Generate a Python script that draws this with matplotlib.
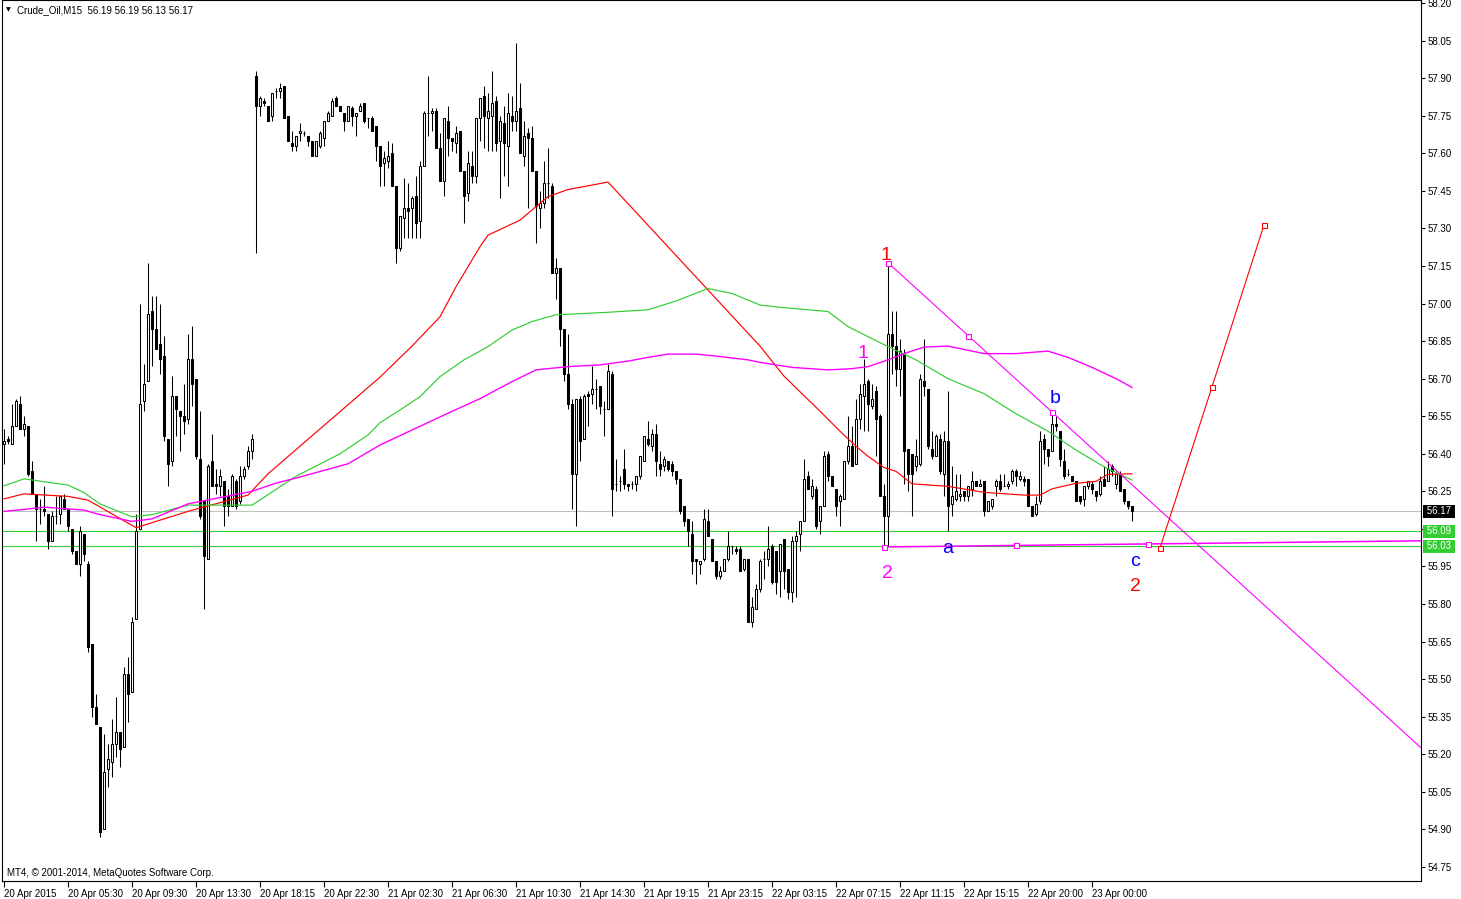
import matplotlib
matplotlib.use("Agg")
import matplotlib.pyplot as plt
from matplotlib.transforms import blended_transform_factory
import numpy as np

# ---------------- data (Crude_Oil, M15) ----------------
opens = [
    56.44, 56.46, 56.44, 56.51, 56.60, 56.50, 56.51, 56.33, 56.24, 56.18,
    56.18, 56.16, 56.05, 56.15, 56.16, 56.22, 56.18, 56.10, 56.01, 55.96,
    56.08, 55.96, 55.64, 55.39, 55.31, 54.90, 55.14, 55.17, 55.24, 55.29,
    55.23, 55.52, 55.45, 55.74, 56.10, 56.61, 56.69, 56.97, 56.90, 56.84,
    56.79, 56.46, 56.37, 56.63, 56.57, 56.55, 56.54,
    56.78, 56.70, 56.38, 56.21, 55.98, 56.37, 56.28, 56.27, 56.29, 56.23,
    56.19, 56.29, 56.21, 56.31, 56.35, 56.41,
    57.91, 57.79, 57.81, 57.79, 57.75, 57.85, 57.85, 57.87, 57.75, 57.64,
    57.63, 57.68, 57.68, 57.67, 57.65, 57.59, 57.63, 57.66, 57.73, 57.75,
    57.82, 57.79, 57.76, 57.73, 57.78, 57.75, 57.77, 57.80, 57.74, 57.74,
    57.71, 57.63,
    57.56, 57.57, 57.60, 57.47, 57.22, 57.34, 57.38, 57.38, 57.43, 57.33,
    57.55, 57.76, 57.76, 57.77, 57.62, 57.49, 57.73, 57.66, 57.64, 57.69,
    57.53, 57.44, 57.55, 57.51, 57.74, 57.83, 57.74, 57.75, 57.81, 57.65,
    57.72, 57.63, 57.75, 57.73, 57.78, 57.59, 57.68, 57.66, 57.53, 57.38,
    57.40, 57.48, 57.47, 57.12, 57.14, 56.90, 56.72,
    56.60, 56.32, 56.62, 56.46, 56.64, 56.64, 56.66, 56.67, 56.58, 56.58,
    56.72, 56.28, 56.29, 56.34, 56.28, 56.28, 56.28, 56.31, 56.37, 56.46,
    56.43, 56.48, 56.36, 56.35, 56.37, 56.36, 56.33, 56.30, 56.19, 56.14,
    56.08, 55.98, 55.96, 55.98, 56.13, 56.06, 55.97, 55.91, 55.93, 55.98,
    56.03, 56.02, 56.02, 55.94, 55.98, 55.73, 55.78, 55.86,
    55.98, 55.98, 56.03, 56.01, 55.93, 56.06, 55.94, 55.85, 56.05, 56.08,
    56.13, 56.31, 56.23, 56.26, 56.13, 56.19, 56.40, 56.31, 56.26, 56.21,
    56.22, 56.37, 56.43, 56.36, 56.54, 56.63, 56.69, 56.59, 56.65, 56.55,
    56.23, 56.15, 56.88, 56.83, 56.74, 56.80, 56.42, 56.40, 56.35, 56.36,
    56.69, 56.66, 56.42, 56.39, 56.46, 56.32, 56.45,
    56.20, 56.22, 56.23, 56.25, 56.23, 56.26, 56.29, 56.27, 56.29, 56.17,
    56.19, 56.27, 56.29, 56.27, 56.27, 56.29, 56.33, 56.30, 56.30, 56.30,
    56.19, 56.16, 56.21, 56.46, 56.42, 56.41, 56.52, 56.49, 56.37, 56.32,
    56.31, 56.29, 56.23, 56.22, 56.27, 56.28, 56.25, 56.24, 56.30, 56.29,
    56.35, 56.28, 56.32, 56.26, 56.21, 56.19,
]
highs = [
    56.50, 56.47, 56.60, 56.62, 56.63, 56.55, 56.51, 56.37, 56.24, 56.22,
    56.27, 56.16, 56.17, 56.23, 56.23, 56.24, 56.18, 56.10, 56.01, 56.11,
    56.08, 55.97, 55.64, 55.44, 55.31, 55.28, 55.24, 55.34, 55.43, 55.29,
    55.55, 55.59, 55.75, 56.16, 57.00, 56.76, 57.16, 57.03, 57.03, 57.00,
    56.87, 56.46, 56.71, 56.63, 56.57, 56.68, 56.88,
    56.91, 56.70, 56.57, 56.21, 56.36, 56.48, 56.34, 56.34, 56.29, 56.26,
    56.32, 56.30, 56.35, 56.35, 56.43, 56.48,
    57.93, 57.83, 57.82, 57.79, 57.84, 57.86, 57.88, 57.87, 57.75, 57.69,
    57.67, 57.72, 57.69, 57.67, 57.65, 57.65, 57.69, 57.73, 57.77, 57.82,
    57.83, 57.79, 57.76, 57.79, 57.79, 57.76, 57.80, 57.80, 57.74, 57.75,
    57.71, 57.63,
    57.61, 57.65, 57.64, 57.47, 57.35, 57.50, 57.48, 57.43, 57.51, 57.57,
    57.77, 57.91, 57.78, 57.78, 57.68, 57.74, 57.79, 57.66, 57.71, 57.69,
    57.53, 57.61, 57.61, 57.74, 57.82, 57.87, 57.84, 57.93, 57.83, 57.75,
    57.79, 57.84, 57.83, 58.04, 57.88, 57.73, 57.70, 57.71, 57.53, 57.45,
    57.57, 57.62, 57.48, 57.18, 57.14, 56.90, 56.88,
    56.62, 56.62, 56.63, 56.64, 56.65, 56.75, 56.70, 56.67, 56.61, 56.76,
    56.73, 56.38, 56.31, 56.42, 56.28, 56.29, 56.31, 56.39, 56.47, 56.53,
    56.50, 56.52, 56.41, 56.39, 56.37, 56.37, 56.33, 56.30, 56.19, 56.14,
    56.13, 55.98, 55.97, 56.18, 56.18, 56.06, 55.97, 55.95, 55.98, 56.09,
    56.03, 56.03, 56.03, 55.98, 55.98, 55.83, 55.88, 55.98,
    56.01, 56.11, 56.04, 56.01, 56.04, 56.06, 55.94, 56.07, 56.09, 56.13,
    56.38, 56.33, 56.30, 56.27, 56.19, 56.41, 56.41, 56.31, 56.26, 56.24,
    56.37, 56.55, 56.51, 56.62, 56.68, 56.78, 56.70, 56.68, 56.67, 56.56,
    56.28, 57.16, 56.97, 56.97, 56.86, 56.82, 56.42, 56.40, 56.46, 56.72,
    56.86, 56.66, 56.49, 56.48, 56.48, 56.49, 56.65,
    56.35, 56.32, 56.32, 56.25, 56.27, 56.33, 56.29, 56.30, 56.29, 56.21,
    56.22, 56.30, 56.32, 56.32, 56.29, 56.34, 56.34, 56.33, 56.31, 56.30,
    56.19, 56.23, 56.49, 56.48, 56.42, 56.57, 56.55, 56.49, 56.42, 56.34,
    56.31, 56.29, 56.23, 56.27, 56.29, 56.29, 56.25, 56.31, 56.35, 56.37,
    56.36, 56.33, 56.33, 56.26, 56.21, 56.19,
]
lows = [
    56.36, 56.44, 56.44, 56.51, 56.50, 56.47, 56.31, 56.24, 56.05, 56.12,
    56.15, 56.02, 56.05, 56.12, 56.12, 56.18, 56.09, 56.00, 55.96, 55.91,
    55.97, 55.61, 55.35, 55.32, 54.87, 54.90, 55.07, 55.11, 55.19, 55.15,
    55.23, 55.33, 55.45, 55.74, 56.10, 56.57, 56.69, 56.75, 56.82, 56.72,
    56.45, 56.27, 56.35, 56.47, 56.41, 56.48, 56.52,
    56.59, 56.38, 56.14, 55.78, 55.98, 56.27, 56.24, 56.23, 56.11, 56.15,
    56.19, 56.18, 56.20, 56.30, 56.34, 56.38,
    57.20, 57.75, 57.79, 57.73, 57.73, 57.82, 57.82, 57.74, 57.65, 57.61,
    57.61, 57.65, 57.67, 57.63, 57.59, 57.59, 57.62, 57.63, 57.73, 57.75,
    57.79, 57.77, 57.69, 57.73, 57.71, 57.67, 57.77, 57.72, 57.70, 57.69,
    57.57, 57.47,
    57.47, 57.54, 57.47, 57.16, 57.21, 57.26, 57.26, 57.26, 57.26, 57.26,
    57.55, 57.67, 57.69, 57.62, 57.49, 57.43, 57.59, 57.61, 57.60, 57.53,
    57.32, 57.41, 57.48, 57.48, 57.65, 57.62, 57.61, 57.61, 57.61, 57.42,
    57.51, 57.47, 57.69, 57.69, 57.60, 57.55, 57.38, 57.53, 57.24, 57.30,
    57.38, 57.42, 57.12, 57.02, 56.83, 56.69, 56.58,
    56.18, 56.11, 56.37, 56.46, 56.51, 56.60, 56.58, 56.56, 56.47, 56.58,
    56.15, 56.25, 56.25, 56.26, 56.25, 56.26, 56.25, 56.30, 56.37, 56.43,
    56.41, 56.31, 56.31, 56.33, 56.33, 56.31, 56.28, 56.16, 56.11, 56.03,
    55.92, 55.88, 55.92, 55.97, 56.07, 55.97, 55.90, 55.90, 55.93, 55.97,
    56.00, 56.00, 55.93, 55.93, 55.73, 55.71, 55.78, 55.85,
    55.90, 55.95, 55.88, 55.84, 55.83, 55.86, 55.82, 55.81, 55.83, 56.01,
    56.13, 56.26, 56.22, 56.10, 56.08, 56.19, 56.29, 56.27, 56.15, 56.11,
    56.22, 56.36, 56.35, 56.36, 56.50, 56.49, 56.49, 56.58, 56.39, 56.23,
    56.03, 56.03, 56.72, 56.67, 56.63, 56.28, 56.25, 56.15, 56.33, 56.35,
    56.63, 56.42, 56.38, 56.39, 56.32, 56.23, 56.09,
    56.15, 56.21, 56.21, 56.21, 56.21, 56.23, 56.27, 56.27, 56.15, 56.17,
    56.18, 56.23, 56.25, 56.27, 56.26, 56.28, 56.27, 56.29, 56.27, 56.19,
    56.15, 56.15, 56.20, 56.36, 56.35, 56.41, 56.49, 56.35, 56.30, 56.31,
    56.29, 56.21, 56.20, 56.19, 56.26, 56.24, 56.21, 56.23, 56.27, 56.29,
    56.31, 56.26, 56.25, 56.20, 56.18, 56.13,
]
closes = [
    56.45, 56.45, 56.51, 56.61, 56.50, 56.52, 56.32, 56.24, 56.18, 56.18,
    56.17, 56.05, 56.15, 56.15, 56.23, 56.18, 56.11, 56.01, 55.96, 56.09,
    56.00, 55.63, 55.39, 55.32, 54.89, 55.13, 55.18, 55.24, 55.29, 55.22,
    55.52, 55.44, 55.73, 56.09, 56.60, 56.68, 56.96, 56.90, 56.82, 56.78,
    56.47, 56.36, 56.63, 56.58, 56.55, 56.53, 56.78,
    56.68, 56.39, 56.15, 55.99, 56.35, 56.27, 56.27, 56.31, 56.19, 56.19,
    56.31, 56.19, 56.31, 56.34, 56.41, 56.46,
    57.79, 57.82, 57.80, 57.73, 57.84, 57.85, 57.86, 57.74, 57.65, 57.63,
    57.67, 57.69, 57.68, 57.65, 57.59, 57.65, 57.68, 57.73, 57.76, 57.81,
    57.79, 57.77, 57.73, 57.79, 57.75, 57.76, 57.79, 57.73, 57.74, 57.69,
    57.63, 57.55,
    57.58, 57.59, 57.47, 57.22, 57.35, 57.38, 57.37, 57.42, 57.32, 57.55,
    57.76, 57.76, 57.77, 57.62, 57.49, 57.74, 57.66, 57.65, 57.68, 57.53,
    57.43, 57.56, 57.51, 57.74, 57.82, 57.75, 57.77, 57.80, 57.64, 57.73,
    57.64, 57.76, 57.73, 57.77, 57.60, 57.67, 57.66, 57.53, 57.39, 57.40,
    57.48, 57.48, 57.12, 57.14, 56.90, 56.72, 56.60,
    56.32, 56.62, 56.45, 56.63, 56.63, 56.66, 56.66, 56.59, 56.58, 56.73,
    56.26, 56.28, 56.29, 56.28, 56.27, 56.28, 56.31, 56.39, 56.47, 56.44,
    56.48, 56.37, 56.34, 56.38, 56.34, 56.33, 56.30, 56.17, 56.13, 56.09,
    55.97, 55.97, 55.97, 56.14, 56.07, 55.97, 55.91, 55.93, 55.98, 56.03,
    56.03, 56.01, 55.93, 55.98, 55.73, 55.79, 55.86, 55.97,
    55.98, 56.02, 55.89, 55.89, 56.04, 55.93, 55.85, 56.05, 56.07, 56.13,
    56.30, 56.26, 56.27, 56.11, 56.19, 56.39, 56.31, 56.27, 56.19, 56.23,
    56.37, 56.43, 56.35, 56.54, 56.64, 56.68, 56.60, 56.62, 56.54, 56.23,
    56.15, 56.88, 56.83, 56.74, 56.81, 56.41, 56.32, 56.32, 56.39, 56.70,
    56.67, 56.43, 56.39, 56.47, 56.33, 56.45, 56.19,
    56.23, 56.25, 56.24, 56.23, 56.27, 56.29, 56.27, 56.28, 56.17, 56.21,
    56.22, 56.29, 56.26, 56.27, 56.28, 56.33, 56.31, 56.31, 56.29, 56.19,
    56.15, 56.20, 56.45, 56.42, 56.39, 56.52, 56.51, 56.38, 56.31, 56.32,
    56.29, 56.21, 56.21, 56.27, 56.29, 56.26, 56.23, 56.29, 56.27, 56.34,
    56.33, 56.32, 56.25, 56.21, 56.19, 56.17,
]

time_labels = [
    "20 Apr 2015", "20 Apr 05:30", "20 Apr 09:30", "20 Apr 13:30",
    "20 Apr 18:15", "20 Apr 22:30", "21 Apr 02:30", "21 Apr 06:30",
    "21 Apr 10:30", "21 Apr 14:30", "21 Apr 19:15", "21 Apr 23:15",
    "22 Apr 03:15", "22 Apr 07:15", "22 Apr 11:15", "22 Apr 15:15",
    "22 Apr 20:00", "23 Apr 00:00",
]
bars_per_label = 16

# moving averages (bar index, value)
ma_red_bars = [0, 5, 16, 21, 33, 46, 61, 66, 94, 102, 109, 113, 119, 121, 129,
               136, 141, 151, 189, 195, 204, 209, 213, 216, 220, 223, 227, 236,
               245, 255, 259, 262, 268, 273, 276, 282]
ma_red = [56.22, 56.24, 56.23, 56.215, 56.105, 56.17, 56.235, 56.32, 56.706,
          56.83, 56.947, 57.067, 57.227, 57.273, 57.333, 57.427, 57.455, 57.485,
          56.83, 56.71, 56.57, 56.49, 56.43, 56.39, 56.345, 56.33, 56.28, 56.27,
          56.246, 56.235, 56.235, 56.26, 56.282, 56.29, 56.318, 56.32]
ma_green_bars = [0, 5, 16, 20, 24, 32, 37, 46, 62, 73, 84, 91, 94, 99, 104, 109,
                 115, 121, 127, 132, 138, 141, 151, 161, 168, 176, 182, 189, 194,
                 206, 211, 217, 222, 228, 236, 245, 253, 261, 268, 275, 282]
ma_green = [56.272, 56.30, 56.275, 56.245, 56.20, 56.148, 56.157, 56.195, 56.195,
            56.31, 56.40, 56.475, 56.524, 56.575, 56.628, 56.708, 56.775, 56.828,
            56.894, 56.928, 56.955, 56.957, 56.965, 56.975, 57.01, 57.06, 57.04,
            56.994, 56.985, 56.968, 56.908, 56.86, 56.82, 56.775, 56.70, 56.64,
            56.56, 56.49, 56.415, 56.348, 56.295]
ma_mag_bars = [0, 5, 10, 20, 24, 32, 37, 46, 62, 68, 73, 86, 94, 102, 111, 119,
               127, 133, 136, 141, 149, 156, 161, 166, 173, 177, 186, 189, 197,
               206, 212, 216, 221, 225, 230, 236, 245, 253, 261, 266, 272, 278, 282]
ma_mag = [56.17, 56.178, 56.187, 56.175, 56.157, 56.13, 56.14, 56.20, 56.25,
          56.283, 56.303, 56.36, 56.435, 56.495, 56.562, 56.62, 56.688, 56.735,
          56.74, 56.748, 56.755, 56.77, 56.785, 56.798, 56.798, 56.792, 56.775,
          56.765, 56.745, 56.735, 56.74, 56.748, 56.775, 56.80, 56.826, 56.83,
          56.80, 56.80, 56.81, 56.785, 56.745, 56.70, 56.665]

bid_price = 56.17
level_prices = [56.09, 56.03]

# wave drawing objects (bar index, price)
trend_bars = [221, 241, 262]
trend_prices = [57.163, 56.872, 56.567]
base_bars = [220, 253, 286]
base_prices = [56.028, 56.034, 56.040]
proj_bars = [289, 302, 315]
proj_prices = [56.024, 56.667, 57.314]

wave_labels = [
    ("1", 220.5, 57.19, "#FF0000"),
    ("1", 214.8, 56.80, "#FF00FF"),
    ("2", 220.8, 55.92, "#FF00FF"),
    ("a", 235.8, 56.02, "#0000FF"),
    ("b", 262.8, 56.62, "#0000FF"),
    ("c", 282.8, 55.97, "#0000FF"),
    ("2", 282.8, 55.87, "#FF0000"),
]

header = "Crude_Oil,M15  56.19 56.19 56.13 56.17"
copyright_text = "MT4, \u00a9 2001-2014, MetaQuotes Software Corp."

# ---------------- figure ----------------
W, H = 1461, 899
fig = plt.figure(figsize=(W / 100, H / 100), dpi=100)
fig.patch.set_facecolor("white")
ax = fig.add_axes([2 / W, 18 / H, 1419 / W, 881 / H])
ax.set_facecolor("white")

x_min, x_max = -0.5, 354.25
px_per_price = 864 / 3.45
y_top = 58.20 + 3 / px_per_price
y_bot = 58.20 - 878 / px_per_price
ax.set_xlim(x_min, x_max)
ax.set_ylim(y_bot, y_top)

LW = 0.75
FONT = "Liberation Sans"
FS = 7
o = np.array(opens); h = np.array(highs); l = np.array(lows); c = np.array(closes)
xi = np.arange(len(o))

# horizontal levels
ax.axhline(bid_price, color="#C0C0C0", lw=0.8, zorder=1)
for p in level_prices:
    ax.axhline(p, color="#32CD32", lw=0.8, zorder=1)

# candles
ax.vlines(xi, l, h, color="black", lw=LW, zorder=3)
up = c >= o
bottoms = np.minimum(o, c)
heights = np.abs(c - o)
ax.bar(xi[up], heights[up], bottom=bottoms[up], width=0.66, facecolor="white",
       edgecolor="black", linewidth=LW, zorder=4)
ax.bar(xi[~up], heights[~up], bottom=bottoms[~up], width=0.66, facecolor="black",
       edgecolor="black", linewidth=LW, zorder=4)

# moving averages
ax.plot(ma_red_bars, ma_red, color="#FF0000", lw=0.85, zorder=5)
ax.plot(ma_green_bars, ma_green, color="#32CD32", lw=0.85, zorder=5)
ax.plot(ma_mag_bars, ma_mag, color="#FF00FF", lw=1.0, zorder=5)

# wave objects
def extend_to_edge(bx, py):
    slope = (py[-1] - py[0]) / (bx[-1] - bx[0])
    return [bx[0], x_max], [py[0], py[0] + slope * (x_max - bx[0])]

ex, ey = extend_to_edge(trend_bars, trend_prices)
ax.plot(ex, ey, color="#FF00FF", lw=0.8, zorder=6)
ax.plot(trend_bars, trend_prices, ls="none", marker="s", ms=3.6, mfc="white",
        mec="#FF00FF", mew=0.8, zorder=7)
ex, ey = extend_to_edge(base_bars, base_prices)
ax.plot(ex, ey, color="#FF00FF", lw=1.1, zorder=6)
ax.plot(base_bars, base_prices, ls="none", marker="s", ms=3.6, mfc="white",
        mec="#FF00FF", mew=0.8, zorder=7)
ax.plot(proj_bars, proj_prices, color="#FF0000", lw=0.8, zorder=6)
ax.plot(proj_bars, proj_prices, ls="none", marker="s", ms=3.6, mfc="white",
        mec="#FF0000", mew=0.8, zorder=7)

for t, bx, py, col in wave_labels:
    ax.text(bx, py, t, color=col, fontsize=14, family=FONT,
            ha="center", va="center", zorder=8)

# axes styling
for s in ax.spines.values():
    s.set_color("black")
    s.set_linewidth(0.8)

tick_font = dict(family=FONT, size=FS)
yt = [54.75 + 0.15 * k for k in range(24)]
ax.yaxis.tick_right()
ax.set_yticks(yt)
ax.set_yticklabels([f"{v:.2f}" for v in yt], **tick_font)
ax.tick_params(axis="y", direction="out", length=3, width=0.8, pad=2, colors="black")

xt = [bars_per_label * k for k in range(len(time_labels))]
ax.set_xticks(xt)
ax.set_xticklabels(time_labels, **tick_font)
for lab in ax.get_xticklabels():
    lab.set_ha("left")
ax.tick_params(axis="x", direction="out", length=4, width=0.8, pad=2, colors="black")

# price tags on the scale
tr = blended_transform_factory(ax.transAxes, ax.transData)
tag_x = 1 + 3 / 1419
ax.text(tag_x, bid_price, f" {bid_price:.2f} ", transform=tr, color="white",
        fontsize=FS, family=FONT, ha="left", va="center", zorder=10,
        clip_on=False,
        bbox=dict(boxstyle="square,pad=0.12", fc="black", ec="none"))
for p in level_prices:
    ax.text(tag_x, p, f" {p:.2f} ", transform=tr, color="white",
            fontsize=FS, family=FONT, ha="left", va="center", zorder=10,
            clip_on=False,
            bbox=dict(boxstyle="square,pad=0.12", fc="#32CD32", ec="none"))

# header and copyright
fig.text(6 / W, 1 - 10 / H, "\u25bc", fontsize=4.5, family="DejaVu Sans",
         va="center", ha="left")
fig.text(17 / W, 1 - 10 / H, header, fontsize=FS, family=FONT,
         va="center", ha="left")
fig.text(7 / W, 1 - 873 / H, copyright_text, fontsize=FS, family=FONT,
         va="center", ha="left")

fig.savefig("out.png", dpi=100, facecolor="white")
